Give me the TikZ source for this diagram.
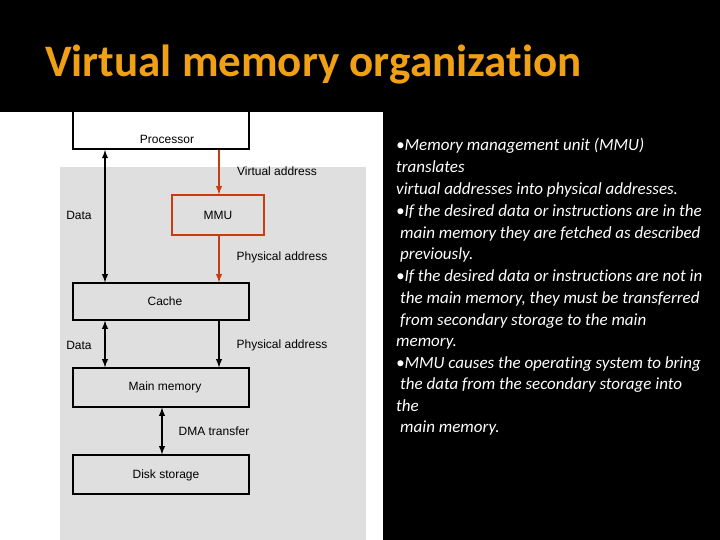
\documentclass[tikz,border=0pt]{standalone}
\usepackage{fontspec}
\setmainfont[Ligatures=NoCommon,Contextuals=NoAlternate]{Carlito}
\newfontfamily\arialf{Liberation Sans}
\begin{document}
\begin{tikzpicture}[x=1pt,y=-1pt,
  box/.style={draw=black,line width=1.2pt,fill=gray!25,inner sep=0},
  lbl/.style={font=\arialf\fontsize{12}{14}\selectfont,text=black},
  arr/.style={line width=1.8pt,-latex},
  darr/.style={line width=1.8pt,latex-latex},
  rt/.style={anchor=base west,font=\itshape\fontsize{17}{20}\selectfont,text=white,inner sep=0}]
\useasboundingbox (0,0) rectangle (720,540);
\fill[black] (0,0) rectangle (720,540);
\fill[white] (0,112) rectangle (383,540);
\fill[gray!25] (60,167) rectangle (366,540);
\draw[line width=1.2pt,fill=white] (73,100) rectangle (249,149);
\node[lbl] (proc) at (167,139) {Processor};
\fill[black] (0,0) rectangle (720,112);
\node[anchor=base west,text={rgb,255:red,240;green,160;blue,20},font=\bfseries\fontsize{45}{50}\selectfont,inner sep=0] (title) at (45,77) {Virtual memory organization};
\node[box,draw={rgb,255:red,200;green,60;blue,20},minimum width=92,minimum height=40] (mmu) at (218,215) {};
\node[lbl] at (218,215) {MMU};
\node[box,minimum width=176,minimum height=37] (cache) at (161,301.5) {};
\node[lbl] at (165,301) {Cache};
\node[box,minimum width=176,minimum height=39] (mm) at (161,387.5) {};
\node[lbl] at (165,387) {Main memory};
\node[box,minimum width=176,minimum height=39] (disk) at (161,474.5) {};
\node[lbl] at (166,475) {Disk storage};
\coordinate (pd) at (105,150);
\coordinate (pv) at (219,150);
\draw[darr] (pd) -- (cache.north -| pd);
\draw[arr,draw={rgb,255:red,200;green,60;blue,20}] (pv) -- (mmu.north -| pv);
\draw[arr,draw={rgb,255:red,200;green,60;blue,20}] (mmu.south -| pv) -- (cache.north -| pv);
\draw[darr] (cache.south -| pd) -- (mm.north -| pd);
\draw[arr] (cache.south -| pv) -- (mm.north -| pv);
\draw[darr] (mm.south -| 162,0) -- (disk.north -| 162,0);
\node[lbl] at (277,171) {Virtual address};
\node[lbl] at (79,215) {Data};
\node[lbl] at (282,257) {Physical address};
\node[lbl] at (79,345) {Data};
\node[lbl] at (282,345) {Physical address};
\node[lbl] at (214,431) {DMA transfer};
\node[rt] at (396,151) {•Memory management unit (MMU)};
\node[rt] at (396,173) {translates};
\node[rt] at (396,195) {virtual addresses into physical addresses.};
\node[rt] at (396,216) {•If the desired data or instructions are in the};
\node[rt] at (400,238) {main memory they are fetched as described};
\node[rt] at (400,259) {previously.};
\node[rt] at (396,281) {•If the desired data or instructions are not in};
\node[rt] at (400,303) {the main memory, they must be transferred};
\node[rt] at (400,325) {from secondary storage to the main};
\node[rt] at (396,346) {memory.};
\node[rt] at (396,368) {•MMU causes the operating system to bring};
\node[rt] at (400,389) {the data from the secondary storage into};
\node[rt] at (396,411) {the};
\node[rt] at (400,432) {main memory.};
\end{tikzpicture}
\end{document}
